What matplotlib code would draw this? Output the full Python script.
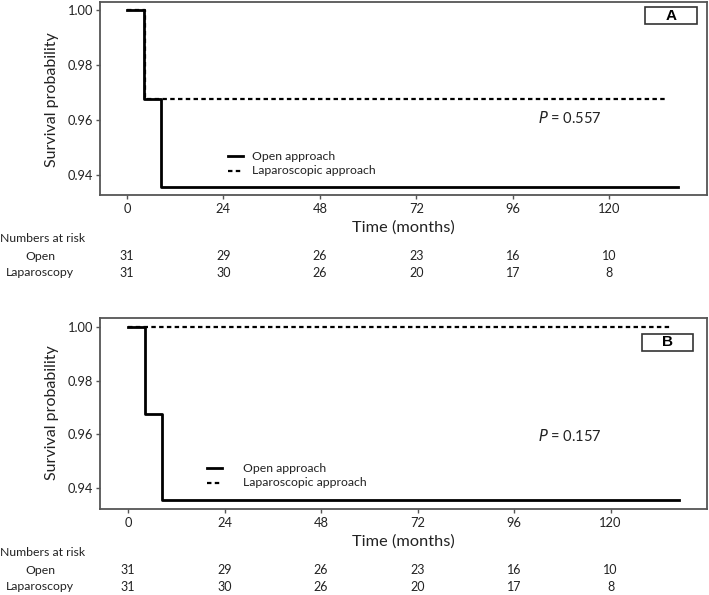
import matplotlib
matplotlib.use('Agg')
import matplotlib.pyplot as plt
from matplotlib.patches import Rectangle

# --- data ---
open_t = [0, 4.2, 8.5, 137]
open_s = [1.0, 0.9677, 0.9355, 0.9355]
lap_t_a = [0, 4.5, 134]
lap_s_a = [1.0, 0.9677, 0.9677]
lap_t_b = [0, 135]
lap_s_b = [1.0, 1.0]

x_ticks = [0, 24, 48, 72, 96, 120]
y_ticks = [0.94, 0.96, 0.98, 1.00]
risk_open = [31, 29, 26, 23, 16, 10]
risk_lap = [31, 30, 26, 20, 17, 8]
p_values = ['0.557', '0.157']
panel_labels = ['A', 'B']
# ----------------

W, H = 709, 595
plt.rcParams['font.family'] = ['Lato', 'DejaVu Sans']
fig = plt.figure(figsize=(W / 100, H / 100), dpi=100)

SPINE = '#555555'
TXT = '#222222'
DASH = (0, (2.0, 1.5))


def px(x, y):
    # pixel coords (top-left origin) -> figure fraction
    return x / W, 1 - y / H


def make_panel(top, bottom, xlim, ylim, lap_t, lap_s, pval, label,
               leg_xy, leg_text_x, p_xy, box, time_y, ylab_y, risk_y):
    l, t = px(100, top)
    r, b = px(707, bottom)
    ax = fig.add_axes([l, b, r - l, t - b])
    ax.step(open_t, open_s, where='post', color='black', lw=2.0)
    ax.step(lap_t, lap_s, where='post', color='black', lw=1.6, linestyle=DASH)
    ax.set_xlim(*xlim)
    ax.set_ylim(*ylim)
    ax.set_xticks(x_ticks)
    ax.set_yticks(y_ticks)
    ax.set_yticklabels([f'{v:.2f}' for v in y_ticks])
    ax.tick_params(length=3, width=1, color=SPINE, labelsize=9.3,
                   labelcolor=TXT, pad=2)
    ax.tick_params(axis='x', pad=3)
    for s in ax.spines.values():
        s.set_color(SPINE)
        s.set_linewidth(1.3)

    # legend drawn by hand
    lx0, lx1, ly0 = leg_xy
    for i, (ls, lw, txt) in enumerate([('-', 2.0, 'Open approach'),
                                        (DASH, 1.6, 'Laparoscopic approach')]):
        yy = ly0 + i * 15
        fig.add_artist(plt.Line2D([lx0 / W, lx1 / W], [1 - yy / H, 1 - yy / H],
                                  color='black', lw=lw, linestyle=ls))
        fig.text(leg_text_x / W, 1 - yy / H, txt, fontsize=8.8,
                 va='center', ha='left', color=TXT)

    fig.text(p_xy[0] / W, 1 - p_xy[1] / H, r'$\it{P}$ = ' + pval,
             fontsize=10.5, va='center', ha='left', color=TXT)

    bx0, by0, bx1, by1 = box
    fig.add_artist(Rectangle((bx0 / W, 1 - by1 / H), (bx1 - bx0) / W, (by1 - by0) / H,
                             transform=fig.transFigure, fill=False,
                             edgecolor='#333333', lw=1.2))
    fig.text((bx0 + bx1) / 2 / W, 1 - (by0 + by1) / 2 / H, label,
             fontsize=11, fontweight='bold', family='Liberation Sans',
             ha='center', va='center')

    fig.text(403 / W, 1 - time_y / H, 'Time (months)', fontsize=11.8,
             ha='center', va='center', color=TXT)
    fig.text(52 / W, 1 - ylab_y / H, 'Survival probability', fontsize=11.5,
             rotation=90, ha='center', va='center', color=TXT)

    # numbers at risk table
    fig.text(0, 1 - risk_y[0] / H, 'Numbers at risk', fontsize=8.8,
             ha='left', va='center', color=TXT)
    fig.text(40 / W, 1 - risk_y[1] / H, 'Open', fontsize=8.8,
             ha='center', va='center', color=TXT)
    fig.text(40 / W, 1 - risk_y[2] / H, 'Laparoscopy', fontsize=8.8,
             ha='center', va='center', color=TXT)
    for xv, o, lp in zip(x_ticks, risk_open, risk_lap):
        xf = fig.transFigure.inverted().transform(ax.transData.transform((xv, 1.0)))[0]
        fig.text(xf, 1 - risk_y[1] / H, str(o), fontsize=9,
                 ha='center', va='center', color=TXT)
        fig.text(xf, 1 - risk_y[2] / H, str(lp), fontsize=9,
                 ha='center', va='center', color=TXT)
    return ax


make_panel(2, 195, (-6.7, 144.3), (0.9327, 1.0029), lap_t_a, lap_s_a,
           p_values[0], panel_labels[0],
           (228, 243, 156), 252, (538, 118), (645, 7, 697, 24),
           228, 100, (239, 256, 273))

make_panel(318, 509, (-7.0, 144.0), (0.9322, 1.0034), lap_t_b, lap_s_b,
           p_values[1], panel_labels[1],
           (207, 222, 468), 243, (538, 436), (642, 334, 693, 351),
           542, 413, (553, 570, 587))

fig.savefig('out.png', dpi=100, facecolor='white')
